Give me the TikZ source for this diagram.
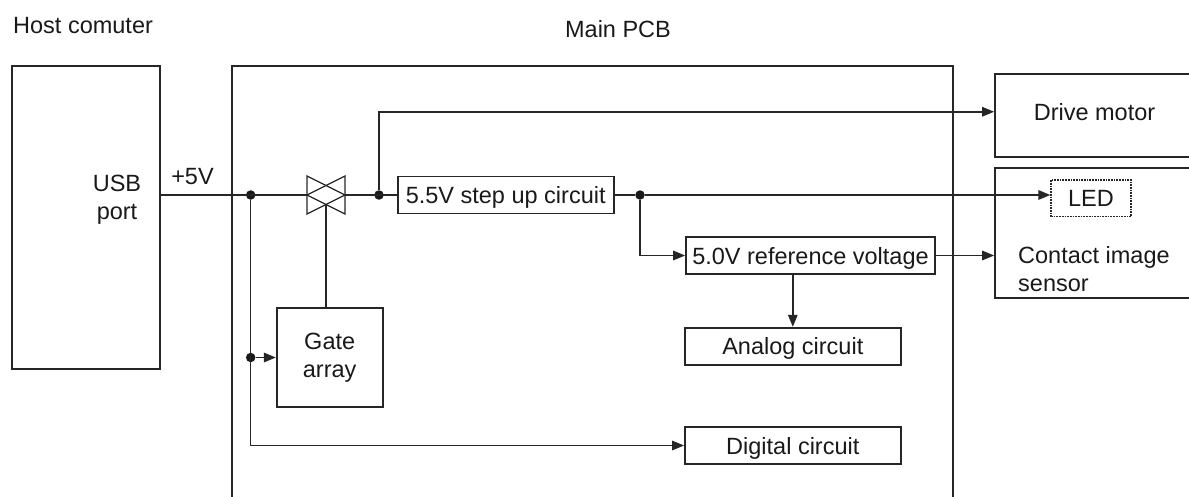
\documentclass[tikz,border=0pt]{standalone}
\usepackage{fontspec}
\setmainfont{Liberation Sans}
\usetikzlibrary{arrows.meta,calc}
\begin{document}
\begin{tikzpicture}[x=1pt,y=-1pt,
  every node/.style={font=\fontsize{23.5}{28}\selectfont, text=black!90, inner sep=0pt},
  box/.style={draw=black!85, line width=1.7pt},
  textbox/.style={box, text height=17pt, text depth=0pt},
  wire/.style={draw=black!85, line width=1.5pt},
  arr/.style={wire, -{Triangle[length=12pt,width=9.5pt]}},
  dot/.style={circle, fill=black!90, inner sep=0pt, minimum size=9.5pt}
]
\useasboundingbox (0,0) rectangle (1189,496);
\clip (0,0) rectangle (1189,496);

% labels
\node[anchor=base west] (host) at (13,33) {Host comuter};
\node[anchor=base] (mainlbl) at (618,37) {Main PCB};

% boxes
\node[box, minimum width=148pt, minimum height=303pt] (usb) at (86,217.5) {};
\node[align=center] (usbtxt) at (117,200) {USB\\port};
\node[box, minimum width=721.3pt, minimum height=460pt] (pcb) at (592.65,296) {};
\node[box, minimum width=250pt, minimum height=82.7pt] (drive) at (1120,115.35) {};
\node[anchor=base] (drivetxt) at (1094.5,120) {Drive motor};
\node[box, minimum width=250pt, minimum height=130.3pt] (contact) at (1120,233.15) {};
\node[anchor=north west, align=left] (cistxt) at (1018,246.5) {Contact image\\sensor};
\node[box, densely dotted, line width=1.3pt, minimum width=80pt, minimum height=36.7pt,
      text height=17pt, text depth=0pt] (led) at (1091,198.3) {LED};

\node[textbox, minimum width=216pt, minimum height=37pt] (stepup) at (505.7,195) {5.5V step up circuit};
\node[textbox, minimum width=249pt, minimum height=37.6pt] (ref) at (810.5,255.5) {5.0V reference voltage};
\node[textbox, minimum width=215.7pt, minimum height=37.3pt] (analog) at (792.8,346.3) {Analog circuit};
\node[textbox, minimum width=215.7pt, minimum height=37.6pt] (digital) at (792.8,445.5) {Digital circuit};
\node[box, align=center, minimum width=106pt, minimum height=98.4pt] (gate) at (329.7,357.5) {Gate\\array};

\node[anchor=base] (v5) at (192.5,184) {+5V};

% valve
\coordinate (v) at (326,195);
\coordinate (vl) at ($(v)+(-19,0)$);
\coordinate (vr) at ($(v)+(19,0)$);
\coordinate (vlow) at ($(v)+(0,9.5)$);
\draw[wire, line width=1.3pt] ($(v)+(-19,-19)$) -- ($(v)+(19,0)$) -- ($(v)+(-19,19)$) -- cycle;
\draw[wire, line width=1.3pt] ($(v)+(19,-19)$) -- ($(v)+(-19,0)$) -- ($(v)+(19,19)$) -- cycle;

% junctions
\node[dot] (j1) at (250.7,195) {};
\node[dot] (j2) at (379,195) {};
\node[dot] (j3) at (250.7,357.5) {};
\node[dot] (j4) at (640,195) {};

% wires
\draw[wire] (usb.east |- vl) -- (vl);
\draw[wire] (vr) -- (stepup.west);
\draw[wire] (vlow) -- (vlow |- gate.north);
\draw[arr] (j1) |- (digital.west);
\draw[arr] (j3) -- (gate.west);
\draw[arr] (j2) |- ([yshift=3.6pt]drive.west);
\draw[wire] (stepup.east) -- (j4);
\draw[arr] (j4) -- (led.west |- j4);
\draw[arr] (j4) |- (ref.west);
\draw[arr] (ref.east) -- (contact.west |- ref.east);
\draw[arr] (analog.north |- ref.south) -- (analog.north);
\end{tikzpicture}
\end{document}
